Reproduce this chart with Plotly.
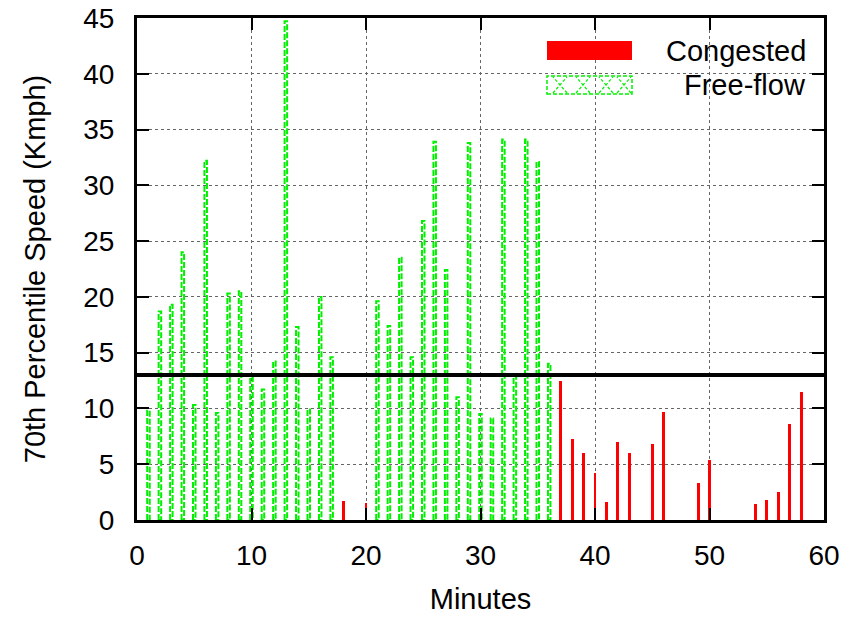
import plotly.graph_objects as go

# Free-flow minutes and their 70th percentile speeds (Kmph)
free_minutes = [1, 2, 3, 4, 5, 6, 7, 8, 9, 10, 11, 12, 13, 14, 15, 16, 17,
                21, 22, 23, 24, 25, 26, 27, 28, 29, 30, 31, 32, 33, 34, 35, 36]
free_speeds = [9.8, 18.7, 19.3, 24.0, 10.3, 32.2, 9.6, 20.3, 20.5, 12.8, 11.7, 14.2, 44.7, 17.3, 9.9, 20.0, 14.6,
               19.6, 17.4, 23.5, 14.6, 26.8, 33.9, 22.4, 11.0, 33.8, 9.5, 9.1, 34.1, 12.9, 34.1, 32.1, 14.0]

# Congested minutes and speeds
cong_minutes = [18, 20, 37, 38, 39, 40, 41, 42, 43, 45, 46, 49, 50, 54, 55, 56, 57, 58]
cong_speeds = [1.7, 1.5, 12.5, 7.3, 6.05, 4.2, 1.65, 6.95, 6.0, 6.85, 9.7, 3.35, 5.35, 1.45, 1.8, 2.5, 8.6, 11.5]

threshold = 13
x_ticks = [0, 10, 20, 30, 40, 50, 60]
y_ticks = [0, 5, 10, 15, 20, 25, 30, 35, 40, 45]

FONT = "Liberation Sans"
GREEN = "#00f000"
RED = "#ff0000"
half_w = 0.11

# dashed outlines for free-flow bars
fx, fy = [], []
for m, v in zip(free_minutes, free_speeds):
    fx += [m - half_w, m - half_w, m + half_w, m + half_w, m - half_w, None]
    fy += [0, v, v, 0, 0, None]

fig = go.Figure()
fig.add_trace(go.Bar(x=cong_minutes, y=cong_speeds, width=0.26,
                     marker=dict(color=RED, line=dict(width=0)), showlegend=False))
fig.add_trace(go.Scatter(x=fx, y=fy, mode="lines",
                         line=dict(color=GREEN, width=2, dash="6px,2px"), showlegend=False))
fig.add_trace(go.Scatter(x=[0, 60], y=[threshold, threshold], mode="lines",
                         line=dict(color="black", width=4), showlegend=False))

# plot-area geometry in pixels, used for the key box
L, R, T, B = 137, 824, 18, 520
def px(x):
    return (x - L) / (R - L)
def py(y):
    return (B - y) / (B - T)

shapes = [
    dict(type="rect", xref="paper", yref="paper", x0=px(527), x1=1, y0=py(100), y1=1,
         fillcolor="white", line=dict(width=0), layer="between"),
    dict(type="rect", xref="paper", yref="paper", x0=px(547), x1=px(632), y0=py(60), y1=py(41),
         fillcolor=RED, line=dict(width=0)),
    dict(type="rect", xref="paper", yref="paper", x0=px(547), x1=px(632), y0=py(94), y1=py(76),
         fillcolor="rgba(0,0,0,0)", line=dict(color=GREEN, width=1.5, dash="4px,2px")),
]
for cx in [560, 583, 606, 624]:
    for s in (1, -1):
        shapes.append(dict(type="line", xref="paper", yref="paper",
                           x0=px(cx - 7 * s), x1=px(cx + 7 * s), y0=py(93), y1=py(77),
                           line=dict(color=GREEN, width=1.2, dash="3px,2px")))

annotations = [
    dict(xref="paper", yref="paper", x=px(808), y=py(51), text="Congested", showarrow=False,
         xanchor="right", yanchor="middle", font=dict(family=FONT, size=29, color="black")),
    dict(xref="paper", yref="paper", x=px(808), y=py(85), text="Free-flow", showarrow=False,
         xanchor="right", yanchor="middle", font=dict(family=FONT, size=29, color="black")),
]

axis_common = dict(showline=True, linecolor="black", linewidth=3, mirror="ticks",
                   ticks="inside", ticklen=12, tickwidth=2, tickcolor="black",
                   showgrid=True, gridcolor="#666666", gridwidth=1, griddash="dot",
                   zeroline=False, automargin=False,
                   tickfont=dict(family=FONT, size=28, color="black"))

fig.update_xaxes(range=[0, 60], tickvals=x_ticks, ticklabelstandoff=8,
                 title=dict(text="Minutes", font=dict(family=FONT, size=29, color="black"), standoff=20),
                 **axis_common)
fig.update_yaxes(range=[0, 45], tickvals=y_ticks, ticklabelstandoff=14,
                 title=dict(text="70th Percentile Speed (Kmph)", font=dict(family=FONT, size=29, color="black"), standoff=30),
                 **axis_common)

fig.update_layout(width=860, height=622, margin=dict(l=L, r=860 - R, t=T, b=622 - B),
                  plot_bgcolor="white", paper_bgcolor="white", bargap=0,
                  shapes=shapes, annotations=annotations, showlegend=False)

fig.write_html("out.html")
